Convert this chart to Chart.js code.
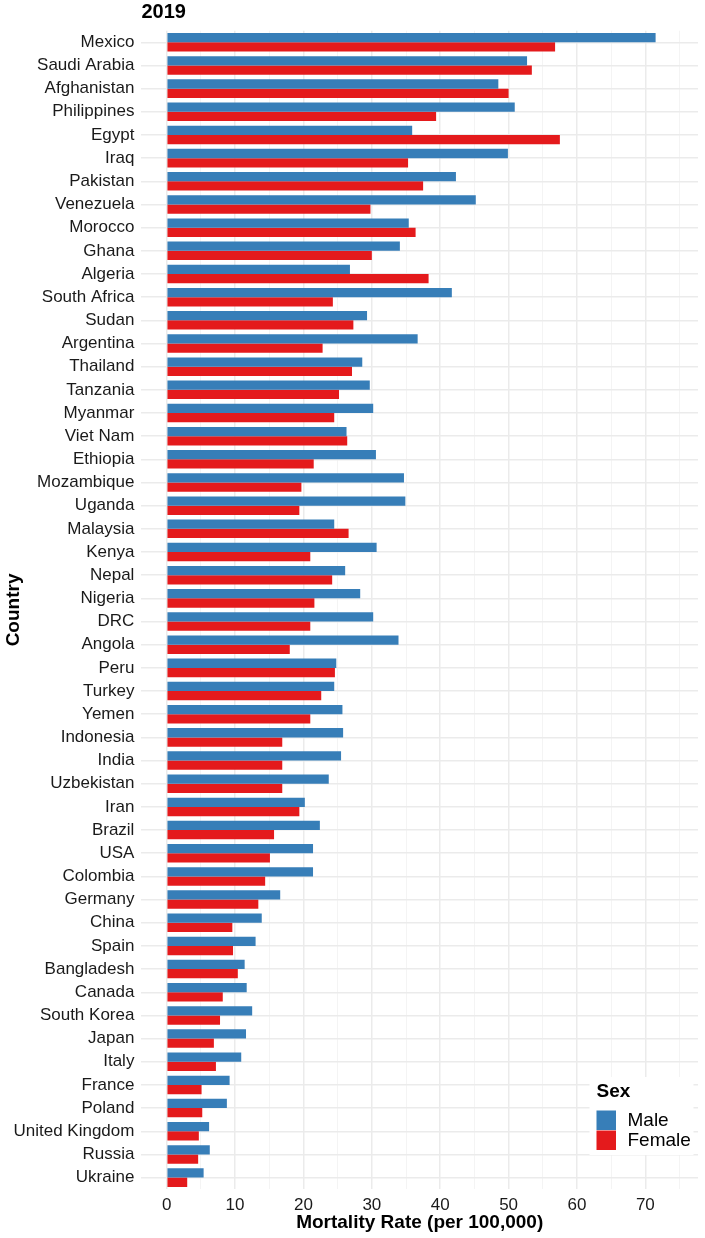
<!DOCTYPE html>
<html>
<head>
<meta charset="utf-8">
<script src="https://cdn.jsdelivr.net/npm/chart.js@4.4.0/dist/chart.umd.min.js"></script>
<style>
  html, body { margin: 0; padding: 0; background: #ffffff; }
  #wrap { width: 705px; height: 1238px; position: relative; }
</style>
</head>
<body>
<div id="wrap"><canvas id="c" width="705" height="1238"></canvas></div>
<script>
const chartTitle = "2019";
const xAxisTitle = "Mortality Rate (per 100,000)";
const yAxisTitle = "Country";
const legendTitle = "Sex";
const seriesNames = ["Male", "Female"];
const seriesColors = ["#377EB8", "#E41A1C"];

const categories = [
  "Mexico", "Saudi Arabia", "Afghanistan", "Philippines", "Egypt", "Iraq", "Pakistan",
  "Venezuela", "Morocco", "Ghana", "Algeria", "South Africa", "Sudan", "Argentina",
  "Thailand", "Tanzania", "Myanmar", "Viet Nam", "Ethiopia", "Mozambique", "Uganda",
  "Malaysia", "Kenya", "Nepal", "Nigeria", "DRC", "Angola", "Peru", "Turkey", "Yemen",
  "Indonesia", "India", "Uzbekistan", "Iran", "Brazil", "USA", "Colombia", "Germany",
  "China", "Spain", "Bangladesh", "Canada", "South Korea", "Japan", "Italy", "France",
  "Poland", "United Kingdom", "Russia", "Ukraine"
];

const maleValues = [
  71.5, 52.7, 48.5, 50.9, 35.9, 49.9, 42.3,
  45.2, 35.4, 34.1, 26.8, 41.7, 29.3, 36.7,
  28.6, 29.7, 30.2, 26.3, 30.6, 34.7, 34.9,
  24.5, 30.7, 26.1, 28.3, 30.2, 33.9, 24.8, 24.5, 25.7,
  25.8, 25.5, 23.7, 20.2, 22.4, 21.4, 21.4, 16.6,
  13.9, 13.0, 11.4, 11.7, 12.5, 11.6, 10.9, 9.2,
  8.8, 6.2, 6.3, 5.4
];

const femaleValues = [
  56.8, 53.4, 50.0, 39.4, 57.5, 35.3, 37.5,
  29.8, 36.4, 30.0, 38.3, 24.3, 27.3, 22.8,
  27.1, 25.2, 24.5, 26.4, 21.5, 19.7, 19.4,
  26.6, 21.0, 24.2, 21.6, 21.0, 18.0, 24.6, 22.6, 21.0,
  16.9, 16.9, 16.9, 19.4, 15.7, 15.1, 14.4, 13.4,
  9.6, 9.7, 10.4, 8.2, 7.8, 6.9, 7.2, 5.1,
  5.2, 4.7, 4.6, 3.0
];

const xTickLabels = [0, 10, 20, 30, 40, 50, 60, 70];
const xMinorTicks = [5, 15, 25, 35, 45, 55, 65, 75];

const FONT = "'Liberation Sans', Arial, Helvetica, sans-serif";

const overlayPlugin = {
  id: 'overlay',
  afterDraw(chart) {
    const ctx = chart.ctx;
    const area = chart.chartArea;
    ctx.save();
    // Title
    ctx.fillStyle = '#000';
    ctx.font = "bold 20px " + FONT;
    ctx.textAlign = 'left';
    ctx.textBaseline = 'alphabetic';
    ctx.fillText(chartTitle, area.left, 17.5);

    // Legend
    const lx = 596.5, ly = 1082;
    ctx.fillStyle = '#ffffff';
    ctx.fillRect(lx - 7, ly - 5, 104, 78);
    ctx.fillStyle = '#000';
    ctx.font = "bold 19px " + FONT;
    ctx.textBaseline = 'middle';
    ctx.fillText(legendTitle, lx, ly + 9.5);
    ctx.font = "19px " + FONT;
    for (let i = 0; i < seriesNames.length; i++) {
      const ky = 1110.5 + i * 20;
      ctx.fillStyle = seriesColors[i];
      ctx.fillRect(lx, ky, 19.5, 19.5);
      ctx.fillStyle = '#000';
      ctx.fillText(seriesNames[i], lx + 31, ky + 10.5);
    }
    ctx.restore();
  }
};

new Chart(document.getElementById('c'), {
  type: 'bar',
  data: {
    labels: categories,
    datasets: [
      {
        label: seriesNames[0],
        data: maleValues,
        backgroundColor: seriesColors[0],
        borderWidth: 0,
        categoryPercentage: 0.8,
        barPercentage: 1.0
      },
      {
        label: seriesNames[1],
        data: femaleValues,
        backgroundColor: seriesColors[1],
        borderWidth: 0,
        categoryPercentage: 0.8,
        barPercentage: 1.0
      }
    ]
  },
  options: {
    indexAxis: 'y',
    responsive: false,
    animation: false,
    devicePixelRatio: 1,
    layout: { padding: { top: 30.7, right: 7, bottom: 0, left: 0 } },
    plugins: {
      legend: { display: false },
      title: { display: false },
      tooltip: { enabled: false }
    },
    scales: {
      x: {
        type: 'linear',
        min: -3.7,
        max: 77.7,
        afterBuildTicks(scale) {
          const all = xTickLabels.concat(xMinorTicks).sort((a, b) => a - b);
          scale.ticks = all.map(v => ({ value: v }));
        },
        afterFit(scale) { scale.height = 48.8; },
        border: { display: false },
        grid: {
          drawTicks: false,
          color: (c) => (c.tick && c.tick.value % 10 === 0) ? '#EBEBEB' : '#F4F4F4',
          lineWidth: (c) => (c.tick && c.tick.value % 10 === 0) ? 1.5 : 1
        },
        ticks: {
          autoSkip: false,
          maxRotation: 0,
          padding: 6,
          color: '#1a1a1a',
          font: { family: FONT, size: 17 },
          callback: (v) => (v % 10 === 0 ? String(v) : '')
        },
        title: {
          display: true,
          text: xAxisTitle,
          color: '#000',
          font: { family: FONT, size: 19, weight: 'bold' },
          padding: { top: 4, bottom: 4 }
        }
      },
      y: {
        type: 'category',
        offset: true,
        afterFit(scale) { scale.width = 141.4; },
        border: { display: false },
        grid: {
          offset: false,
          drawTicks: false,
          color: '#EBEBEB',
          lineWidth: 1.5
        },
        ticks: {
          autoSkip: false,
          padding: 7,
          color: '#1a1a1a',
          font: { family: FONT, size: 17 }
        },
        title: {
          display: true,
          text: yAxisTitle,
          color: '#000',
          font: { family: FONT, size: 19, weight: 'bold' },
          padding: { top: 2, bottom: 2 }
        }
      }
    }
  },
  plugins: [overlayPlugin]
});
</script>
</body>
</html>
